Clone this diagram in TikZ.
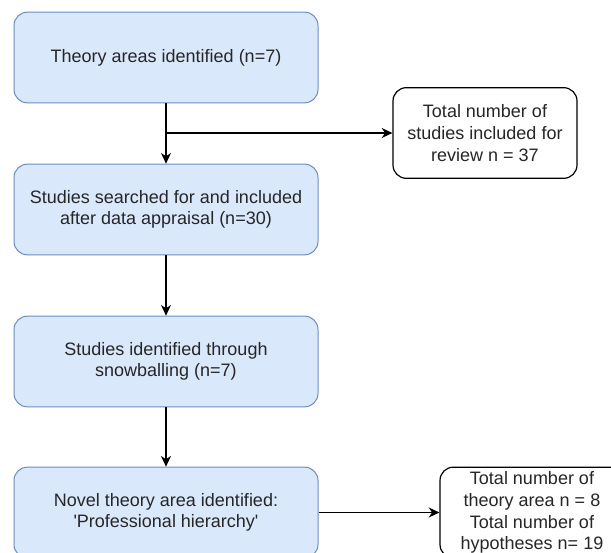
\documentclass[tikz,border=0pt]{standalone}
\usepackage{fontspec}
\setmainfont{Liberation Sans}
\usepackage{xcolor}
\usepackage{tikz}
\usetikzlibrary{arrows.meta}
\usetikzlibrary{positioning}
\definecolor{stepfill}{HTML}{DAE8FC}
\definecolor{stepdraw}{HTML}{6C8EBF}
\tikzstyle{stepbox}=[rectangle,rounded corners=10pt,draw=stepdraw,fill=stepfill,line width=0.75pt,minimum width=228pt,minimum height=68pt,inner sep=2pt,align=center,text=black!85,font=\fontsize{13.5}{16}\selectfont]
\tikzstyle{totalbox}=[rectangle,rounded corners=10pt,draw=black,fill=white,line width=0.9pt,minimum width=138pt,minimum height=68pt,inner sep=2pt,align=center,text=black!85,font=\fontsize{13.5}{16.4}\selectfont]
\tikzstyle{flow} = [draw,line width=0.9pt,-{Stealth[length=8pt,width=7.5pt,inset=2.5pt]}]

\begin{document}
\begin{tikzpicture}[x=0.75pt,y=-0.75pt]

  \fill[white] (0,0) rectangle (611,553);
  \clip (0,0) rectangle (611,553);

   \foreach \y/\name/\label in {57.5/theory/{Theory areas identified (n=7)}, 209.5/searched/{Studies searched for and included\\after data appraisal (n=30)}, 361.5/snowball/{Studies identified through\\snowballing (n=7)}, 512.5/novel/{Novel theory area identified:\\\textquotesingle Professional hierarchy\textquotesingle}}
          \node[stepbox] (\name) at (166, \y) {\label};

   \node[totalbox] (review) at (485, 133) {Total number of\\studies included for\\review n = 37};
   \node[totalbox] (summary) at (532, 512.5) {Total number of\\theory area n = 8\\Total number of\\hypotheses n= 19};

   \coordinate (split) at (166, 133);

  \foreach \source/ \dest in {theory/searched, searched/snowball, snowball/novel}
         \path[flow] (\source) -- (\dest);

  \path[flow] (split) -- (review);
  \path[flow] (novel) -- (summary);

\end{tikzpicture}
\end{document}
